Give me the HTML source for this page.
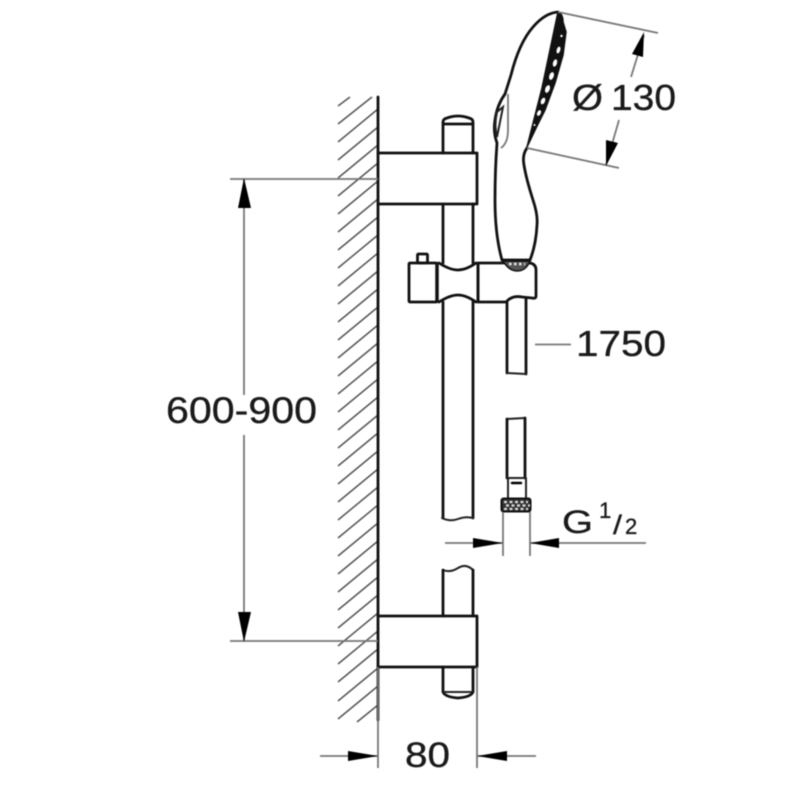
<!DOCTYPE html>
<html>
<head>
<meta charset="utf-8">
<style>
html,body{margin:0;padding:0;background:#fff;width:800px;height:800px;overflow:hidden}
svg{display:block;filter:blur(0.45px)}
text{font-family:"Liberation Sans",sans-serif;fill:#1a1a1a;stroke:#1a1a1a;stroke-width:0.35}
.k{fill:none;stroke:#111;stroke-width:2.8;stroke-linejoin:round;stroke-linecap:round}
.m{fill:none;stroke:#222;stroke-width:2;stroke-linecap:round}
.g{fill:none;stroke:#777;stroke-width:1.8}
.h{fill:none;stroke:#555;stroke-width:1.5}
.a{fill:#000;stroke:none}
</style>
</head>
<body>
<svg width="800" height="800" viewBox="0 0 800 800" xmlns="http://www.w3.org/2000/svg">
<!-- wall hatch -->
<g class="h">
<path d="M338 106L350 97M338 124L372 97"/>
<path d="M338 142L378 109M338 160L378 127M338 178L378 145M338 196L378 163M338 214L378 181M338 232L378 199M338 250L378 217M338 268L378 235M338 286L378 253M338 304L378 271M338 322L378 289M338 340L378 307M338 358L378 325M338 376L378 343M338 394L378 361M338 412L378 379M338 430L378 397M338 448L378 415M338 466L378 433M338 484L378 451M338 502L378 469M338 520L378 487M338 538L378 505M338 556L378 523M338 574L378 541M338 592L378 559M338 610L378 577M338 628L378 595M338 646L378 613M338 664L378 631M338 682L378 649M338 701L378 668M338 719L378 686M357 722L378 705"/>
</g>
<path class="k" d="M378 97V720"/>
<!-- extension + dim lines -->
<path class="g" d="M230 179H378M230 641H378M244 179V395M244 435V641"/>
<path class="a" d="M244 178L251 208H238ZM244 642L251 612H238Z"/>
<!-- brackets -->
<path class="k" d="M378 153H477V204H378M378 616H477V667H378"/>
<!-- rail -->
<path class="k" d="M443 153V122Q443 119 447 118Q458 114 469 118Q473 119 473 122V153M444 124H472"/>
<path class="k" d="M443 204V263M473 204V263M443 302V518M473 302V518"/>
<path class="m" d="M442 518Q450 522 458 519T473 518"/>
<path class="m" d="M443 570Q450 573 458 568T473 570"/>
<path class="k" d="M443 570V616M473 570V616M443 667V692Q445 697 458 698Q471 697 473 692V667"/>
<path class="m" d="M444 692H472"/>
<!-- clamp -->
<rect x="409" y="263" width="28" height="39" rx="1" fill="#fff" class="k"/>
<rect x="417.500" y="254" width="10" height="9" rx="1" fill="#fff" class="k"/>
<path d="M437 263V302" stroke="#111" stroke-width="3.500"/>
<path d="M478 263V302" stroke="#111" stroke-width="3"/>
<path class="k" fill="#fff" d="M439 263Q450 270 458 270T476 263M439 302Q450 295 458 295T476 302"/>
<path class="k" d="M478 263H530Q536 264 536 270V296Q536 299 532 298L522 297Q512 295 506 302H478"/>
<!-- hose upper -->
<path class="k" d="M507 302V373M526 298V374"/>
<path class="m" d="M507 373L526 374"/>
<!-- shower head -->
<path class="k" d="M558 12Q545 13 533 27Q519 43 511 75L505 94"/>
<path class="k" d="M505 94Q497 105 495 120Q493 132 497 143Q495 170 495 200Q495 235 502 260"/>
<path class="m" stroke-width="1.500" d="M497 112L503 107Q500 122 497 137Q494 125 497 112Z"/>
<path class="g" d="M508 94V130Q508 143 501 148"/>
<path class="k" d="M527 148Q522 155 524 165Q526 178 533 200Q538 215 537 225Q536 245 530 260"/>
<path d="M558 12Q563 14 563 22L566 32L563 55L555 83L545 110L537 126L527 147L542 88Z" fill="#111" stroke="#111" stroke-width="1.500" stroke-linejoin="round"/>
<g fill="#fff">
<ellipse cx="558.500" cy="50" rx="1.800" ry="3.500" transform="rotate(17 558.500 50)"/>
<ellipse cx="555" cy="63" rx="2" ry="3.800" transform="rotate(17 555 63)"/>
<ellipse cx="551.500" cy="76" rx="2.200" ry="4" transform="rotate(20 551.500 76)"/>
<ellipse cx="547.500" cy="89" rx="2.200" ry="4" transform="rotate(22 547.500 89)"/>
<ellipse cx="543" cy="101" rx="2" ry="3.500" transform="rotate(24 543 101)"/>
<ellipse cx="539" cy="113" rx="1.800" ry="3" transform="rotate(26 539 113)"/>
<circle cx="561.500" cy="36" r="1.200"/>
<circle cx="534.500" cy="125" r="1"/>
</g>
<!-- shower base -->
<path class="k" d="M502 260H530"/>
<path d="M503 261Q509 271 517 271Q526 271 530 261Z" fill="#555" stroke="#111" stroke-width="1.500"/>
<path d="M509 264H525" stroke="#eee" stroke-width="2.500" stroke-dasharray="2.500 2.500"/>
<!-- head dims -->
<path class="g" stroke-width="2" d="M558 12L658 33M527 148L619 168M644 35L631 77M619 120L606 165"/>
<path class="a" d="M644 32L643 57L632 54ZM606 166L606 140L618 143Z"/>
<text x="572" y="110" font-size="36" textLength="31" lengthAdjust="spacingAndGlyphs">Ø</text>
<text x="611" y="110" font-size="36" textLength="65" lengthAdjust="spacingAndGlyphs">130</text>
<!-- 1750 -->
<path class="g" d="M535 344.500H571"/>
<text x="576" y="356" font-size="36" textLength="90" lengthAdjust="spacingAndGlyphs">1750</text>
<!-- 600-900 -->
<text x="166" y="423" font-size="37" textLength="151" lengthAdjust="spacingAndGlyphs">600-900</text>
<!-- hose lower -->
<path class="m" d="M507 419L525 418"/>
<path class="k" d="M507 419V478M525 418V478"/>
<path class="m" d="M507 478H526M508 478V498M526 478V498"/>
<path d="M512 483H521" stroke="#000" stroke-width="2.500" stroke-linecap="round"/>
<rect x="501.500" y="498.500" width="29" height="13" rx="2" fill="#333" stroke="#111" stroke-width="2"/>
<path d="M504 502H528M506 505.500H530M504 509H528" stroke="#ddd" stroke-width="2.200" stroke-dasharray="3 2.500"/>
<!-- G 1/2 -->
<path class="g" d="M503 512V556M530 512V556M445 543H503M530 543H646"/>
<path class="a" d="M503 543L473 538V548ZM530 543L559 538V548Z"/>
<text x="562" y="533" font-size="32" textLength="31" lengthAdjust="spacingAndGlyphs">G</text>
<text x="599" y="518" font-size="22">1</text>
<text x="613" y="534" font-size="27" textLength="9" lengthAdjust="spacingAndGlyphs">/</text>
<text x="625" y="534" font-size="22">2</text>
<!-- 80 -->
<path class="g" d="M378 667V768M477 667V768M320 756H378M477 756H536"/>
<path class="a" d="M378 756L348 751V761ZM477 756L507 751V761Z"/>
<text x="405" y="767" font-size="35" textLength="45" lengthAdjust="spacingAndGlyphs">80</text>
</svg>
</body>
</html>
